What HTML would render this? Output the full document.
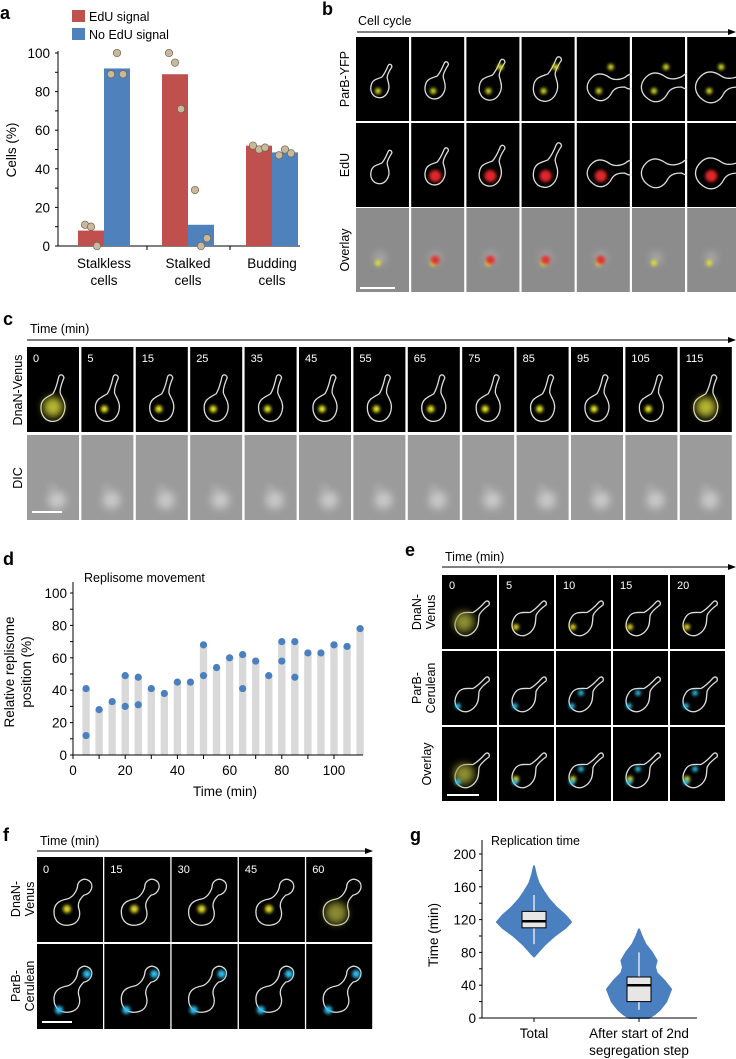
<!DOCTYPE html>
<html><head><meta charset="utf-8"><style>
html,body{margin:0;padding:0;background:#fff;}
svg{display:block;font-family:"Liberation Sans",Arial,sans-serif;}
</style></head><body>
<svg id="fig" width="736" height="1059" viewBox="0 0 736 1059" xmlns="http://www.w3.org/2000/svg">
<defs>
<filter id="blur2" x="-50%" y="-50%" width="200%" height="200%"><feGaussianBlur stdDeviation="1.6"/></filter>
<filter id="blur4" x="-50%" y="-50%" width="200%" height="200%"><feGaussianBlur stdDeviation="4"/></filter>
<marker id="arr" markerWidth="8" markerHeight="6" refX="7" refY="3" orient="auto"><path d="M0,0 L8,3 L0,6 Z" fill="#000"/></marker>
</defs>
</svg>
<script>
// ---------- Panel a data ----------
const aCategories = ['Stalkless', 'Stalked', 'Budding'];
const aEdU = [8, 89, 52];
const aNoEdU = [92, 11, 48.5];
const aEdUDots = [[11, 10, 0], [100, 95, 71], [52, 50, 51]];
const aNoEdUDots = [[89, 100, 89], [29, 0, 4], [47, 50, 48]];
const aTicks = [0, 20, 40, 60, 80, 100];
// ---------- Panel d data ----------
const dTimes = [5,10,15,20,25,30,35,40,45,50,55,60,65,70,75,80,85,90,95,100,105,110];
const dPos = [[41,12],[28],[33],[49,30],[48,31],[41],[38],[45],[45],[68,49],[54],[60],[62,41],[58],[49],[70,58],[70,48],[63],[63],[68],[67],[78]];
const dYTicks = [0,20,40,60,80,100];
const dXTicks = [0,20,40,60,80,100];
// ---------- Panel g data ----------
const gCategories = ['Total', 'After start of 2nd|segregation step'];
const gViolinY = [[75,80,90,100,110,117,125,135,145,155,165,175,185],[0,5,10,20,35,45,55,62,70,80,90,100,108]];
const gViolinW = [[0,0.1,0.3,0.55,0.85,1,0.85,0.6,0.4,0.25,0.12,0.05,0],[0.3,0.5,0.65,0.85,1,0.8,0.55,0.5,0.55,0.4,0.2,0.08,0]];
const gBoxQ1 = [110, 20];
const gBoxMed = [118, 40];
const gBoxQ3 = [130, 50];
const gWhiskLo = [90, 10];
const gWhiskHi = [150, 80];
const gYTicks = [0,40,80,120,160,200];

const NS = 'http://www.w3.org/2000/svg';
const svg = document.getElementById('fig');
function mk(parent, tag, attrs, text){
  const e = document.createElementNS(NS, tag);
  for (const k in attrs) e.setAttribute(k, attrs[k]);
  if (text !== undefined) e.textContent = text;
  parent.appendChild(e);
  return e;
}
function txt(x,y,s,size,opts){
  opts = opts||{};
  const t = mk(svg,'text',{x:x,y:y,'font-size':size,fill:opts.fill||'#000','text-anchor':opts.anchor||'start','font-weight':opts.bold?'bold':'normal'},s);
  if (opts.rot) t.setAttribute('transform','rotate(-90 '+x+' '+y+')');
  return t;
}

// ================= Panel a =================
const aY = v => 246 - v*1.93;
const aX = i => 104 + i*84;
let e;
e = txt(0,19,'a',18,{bold:true});


e = mk(svg,'rect',{x:72,y:10,width:13,height:12,fill:'#c0504d'});


e = txt(89,21,'EdU signal',12.5);


e = mk(svg,'rect',{x:72,y:28,width:13,height:12,fill:'#4f81bd'});


e = txt(89,39,'No EdU signal',12.5);


e = mk(svg,'line',{x1:58,y1:aY(0),x2:58,y2:aY(100)-2,stroke:'#000','stroke-width':1});


e = mk(svg,'line',{x1:58,y1:246,x2:300,y2:246,stroke:'#000','stroke-width':1});


for (let v=0; v<=100; v+=10){
  const l = mk(svg,'line',{x1:55,y1:aY(v),x2:58,y2:aY(v),stroke:'#000'});
  
  
}
aTicks.forEach(v=>{
  const t = txt(50,aY(v)+5,String(v),13.5,{anchor:'end'});
  
  
});
[147,230].forEach(x=>{
  const l = mk(svg,'line',{x1:x,y1:246,x2:x,y2:250,stroke:'#000'});
  
  
});
e = txt(16,150,'Cells (%)',13.5,{anchor:'middle',rot:true});


aCategories.forEach((c,i)=>{
  const cx = aX(i);
  const r = mk(svg,'rect',{x:cx-26,y:aY(aEdU[i]),width:26,height:246-aY(aEdU[i]),fill:'#c0504d'});
  
  
  const b = mk(svg,'rect',{x:cx,y:aY(aNoEdU[i]),width:26,height:246-aY(aNoEdU[i]),fill:'#4f81bd'});
  
  
  aEdUDots[i].forEach((v,j)=>{
    const d = mk(svg,'circle',{cx:cx-19+j*6,cy:aY(v),r:3.7,fill:'#c9b99c',stroke:'#6e6452','stroke-width':0.7});
    
    
  });
  aNoEdUDots[i].forEach((v,j)=>{
    const d = mk(svg,'circle',{cx:cx+7+j*6,cy:aY(v),r:3.7,fill:'#c9b99c',stroke:'#6e6452','stroke-width':0.7});
    
    
  });
  const t1 = txt(cx,268,c,13.5,{anchor:'middle'});
  
  
  const t2 = txt(cx,285,'cells',13.5,{anchor:'middle'});
  
  
});

// ================= Microscopy helpers =================
const PEAR = 'M -1,0 C -1,0.8 -0.5,1.2 0,1.2 C 0.6,1.2 1,0.7 1,0 C 1,-0.5 0.7,-0.8 0.5,-1.2 C 0.4,-1.6 0.6,-2.2 0.7,-2.5 C 0.6,-2.8 0.3,-2.8 0.25,-2.5 C 0.2,-2.1 0.1,-1.5 -0.1,-1.1 C -0.5,-0.8 -1,-0.6 -1,0 Z';
const BUD = 'M -1,0 C -1,0.8 -0.4,1.1 0.2,1.0 C 0.9,0.9 1.1,0.3 0.9,-0.3 C 0.8,-0.7 1.0,-1.0 1.3,-1.3 C 1.9,-1.4 2.1,-2.1 1.7,-2.4 C 1.3,-2.7 0.8,-2.4 0.8,-1.9 C 0.7,-1.5 0.4,-1.1 0,-1 C -0.6,-0.9 -1,-0.6 -1,0 Z';
function tile(x,y,w,h,bg,name){
  const r = mk(svg,'rect',{x:x,y:y,width:w,height:h,fill:bg});
  
  
}
function outline(cx,cy,s,rot,shape,color){
  const p = mk(svg,'path',{d:shape,fill:'none',stroke:color||'#ddd','stroke-width':1.3/s,transform:'translate('+cx+' '+cy+') rotate('+rot+') scale('+s+')'});
  
  
}
function blob(cx,cy,r,color,filt){
  const c = mk(svg,'circle',{cx:cx,cy:cy,r:r,fill:color,filter:'url(#'+(filt||'blur2')+')'});
  
  
}
function arrowLine(x1,x2,y,name){
  const l = mk(svg,'line',{x1:x1,y1:y,x2:x2,y2:y,stroke:'#000','stroke-width':1,'marker-end':'url(#arr)'});
  
  
}
function scaleBar(x,y,w,name){
  const l = mk(svg,'line',{x1:x,y1:y,x2:x+w,y2:y,stroke:'#fff','stroke-width':2});
  
  
}

// ================= Panel b =================
e = txt(322,15,'b',18,{bold:true});


e = txt(358,25,'Cell cycle',12.5);


arrowLine(357,735,32,'b-cell-cycle-arrow');
const bRows = [[37,'#000','ParB-YFP'],[123,'#000','EdU'],[208,'#8c8c8c','Overlay']];
bRows.forEach((row,ri)=>{
  const t = txt(349,row[0]+42,row[2],12.5,{anchor:'middle',rot:true});
  
  
  for (let i=0;i<7;i++){
    const x = 356+i*55.2, y=row[0];
    tile(x,y,53,84,row[1],'b-tile');
    const cx=x+24, cy=y+50, s=9+i*1.0;
    if (ri<2) outline(cx,cy,s,i>3?45:15,i>=4?BUD:PEAR);
    if (ri===0){ blob(cx-2,cy+4,3,'#e5e52a'); if(i>=2) blob(cx+10,cy-20,3,'#e5e52a'); }
    if (ri===1 && i>0 && i!==5) blob(cx,cy+3,6,'#e0282a','blur2');
    if (ri===2){ blob(cx,cy,6,'#aaaaaa','blur4'); blob(cx-2,cy+5,3,'#e0e030'); if(i>0&&i<5) blob(cx,cy+2,4.5,'#e03030'); }
  }
});
scaleBar(360,288,35,'b-scale-bar');

// ================= Panel c =================
e = txt(3,325,'c',18,{bold:true});


e = txt(30,333,'Time (min)',12.5);


arrowLine(27,735,340,'c-time-arrow');
const cTimes = ['0','5','15','25','35','45','55','65','75','85','95','105','115'];
e = txt(22,390,'DnaN-Venus',12.5,{anchor:'middle',rot:true});


e = txt(22,478,'DIC',12.5,{anchor:'middle',rot:true});


cTimes.forEach((tm,i)=>{
  const x = 27+i*54.4;
  tile(x,347,52,85,'#000','c-tile-fluor');
  outline(x+26,347+60,12,5,PEAR);
  if (i===0||i===12) blob(x+26,407,10,'#b8b830','blur4'); else blob(x+23,409,3.5,'#f0f020');
  const t = txt(x+6,362,tm,11,{fill:'#fff'});
  
  
  tile(x,435,52,85,'#9b9b9b','c-tile-dic');
  blob(x+30,500,9,'#c8c8c8','blur4');
  blob(x+25,488,3,'#bdbdbd','blur4');
});
scaleBar(32,512,30,'c-scale-bar');

// ================= Panel d =================
const dX = t => 73 + t*2.61;
const dY = v => 755 - v*1.62;
e = txt(3,565,'d',18,{bold:true});


e = txt(84,582,'Replisome movement',12.5);


dTimes.forEach((t,i)=>{
  const top = Math.max(...dPos[i]);
  const b = mk(svg,'rect',{x:dX(t)-3.7,y:dY(top),width:7.4,height:755-dY(top),fill:'#d9d9d9'});
  
  
});
dTimes.forEach((t,i)=>{
  dPos[i].forEach(v=>{
    const c = mk(svg,'circle',{cx:dX(t),cy:dY(v),r:3.6,fill:'#4a7fc0'});
    
    
  });
});
e = mk(svg,'line',{x1:73,y1:755,x2:73,y2:582,stroke:'#000'});


e = mk(svg,'line',{x1:73,y1:755,x2:363,y2:755,stroke:'#000'});


for (let v=0; v<=100; v+=10){
  const l = mk(svg,'line',{x1:70,y1:dY(v),x2:73,y2:dY(v),stroke:'#000'});
  
  
  const m = mk(svg,'line',{x1:dX(v),y1:755,x2:dX(v),y2:759,stroke:'#000'});
  
  
}
dYTicks.forEach(v=>{
  const t = txt(67,dY(v)+5,String(v),13.5,{anchor:'end'});
  
  
});
dXTicks.forEach(v=>{
  const t = txt(dX(v),775,String(v),13.5,{anchor:'middle'});
  
  
});
e = txt(225,796,'Time (min)',13.5,{anchor:'middle'});


e = txt(14,672,'Relative replisome',13.5,{anchor:'middle',rot:true});


e = txt(31,672,'position (%)',13.5,{anchor:'middle',rot:true});



// ================= Panel e =================
e = txt(405,556,'e',18,{bold:true});


e = txt(445,561,'Time (min)',12.5);


arrowLine(442,735,567,'e-time-arrow');
const eTimes = ['0','5','10','15','20'];
const eRows = [[575,['DnaN-','Venus']],[651,['ParB-','Cerulean']],[727,['Overlay']]];
eRows.forEach((row,ri)=>{
  row[1].forEach((s,k)=>{
    const t = txt(row[1].length===1?431:421+k*14,row[0]+37,s,12.5,{anchor:'middle',rot:true});
    
    
  });
  eTimes.forEach((tm,i)=>{
    const x = 442+i*57;
    tile(x,row[0],55,74,'#000','e-tile');
    outline(x+25,row[0]+48,11,35,PEAR);
    if (ri===0||ri===2){ if(i===0) blob(x+22,row[0]+47,10,'#8f8f30','blur4'); else blob(x+17,row[0]+52,3,'#f0e020'); }
    if (ri>=1){ blob(x+16,row[0]+55,2.8,'#30c8f0'); if(i>=2) blob(x+25,row[0]+42,2.8,'#30c8f0'); }
    if (ri===0){
      const t = txt(x+7,row[0]+14,tm,11,{fill:'#fff'});
      
      
    }
  });
});
scaleBar(447,795,32,'e-scale-bar');

// ================= Panel f =================
e = txt(3,841,'f',18,{bold:true});


e = txt(40,845,'Time (min)',12.5);


arrowLine(37,372,851,'f-time-arrow');
const fTimes = ['0','15','30','45','60'];
const fRows = [[857,['DnaN-','Venus']],[944,['ParB-','Cerulean']]];
fRows.forEach((row,ri)=>{
  row[1].forEach((s,k)=>{
    const t = txt(20+k*14,row[0]+42,s,12.5,{anchor:'middle',rot:true});
    
    
  });
  fTimes.forEach((tm,i)=>{
    const x = 37+i*67.3;
    tile(x,row[0],66,85,'#000','f-tile');
    outline(x+30,row[0]+55,13,0,BUD);
    if (ri===0){
      if (i===4) blob(x+30,row[0]+56,11,'#8a8a30','blur4'); else blob(x+30,row[0]+52,4,'#e0d828');
      const t = txt(x+6,row[0]+16,tm,11,{fill:'#fff'});
      
      
    } else {
      blob(x+50,row[0]+30,4,'#30c0f0');
      blob(x+22,row[0]+66,4,'#30c0f0');
    }
  });
});
scaleBar(42,1022,30,'f-scale-bar');

// ================= Panel g =================
const gY = v => 1018 - v*0.82;
const gX = [534, 639];
const gHalf = [37, 32];
e = txt(410,841,'g',18,{bold:true});


e = txt(491,845,'Replication time',12.5);


gCategories.forEach((c,i)=>{
  const ys = gViolinY[i], ws = gViolinW[i];
  let d = '';
  ys.forEach((v,k)=>{ d += (k?'L':'M')+(gX[i]+ws[k]*gHalf[i])+','+gY(v)+' '; });
  for (let k=ys.length-1;k>=0;k--) d += 'L'+(gX[i]-ws[k]*gHalf[i])+','+gY(ys[k])+' ';
  d += 'Z';
  const p = mk(svg,'path',{d:d,fill:'#4a7fc0',stroke:'#4a7fc0','stroke-width':2,'stroke-linejoin':'round'});
  
  
  const w = mk(svg,'line',{x1:gX[i],y1:gY(gWhiskLo[i]),x2:gX[i],y2:gY(gWhiskHi[i]),stroke:'#fff','stroke-width':1.2});
  
  
  const b = mk(svg,'rect',{x:gX[i]-12,y:gY(gBoxQ3[i]),width:24,height:gY(gBoxQ1[i])-gY(gBoxQ3[i]),fill:'#e6e6e6',stroke:'#000','stroke-width':1});
  
  
  const m = mk(svg,'line',{x1:gX[i]-12,y1:gY(gBoxMed[i]),x2:gX[i]+12,y2:gY(gBoxMed[i]),stroke:'#000','stroke-width':2.5});
  
  
  const tk = mk(svg,'line',{x1:gX[i],y1:1018,x2:gX[i],y2:1022,stroke:'#000'});
  
  
  c.split('|').forEach((s,k)=>{
    const t = txt(gX[i],1038+k*17,s,13.5,{anchor:'middle'});
    
    
  });
});
e = mk(svg,'line',{x1:482,y1:1018,x2:482,y2:840,stroke:'#000'});


e = mk(svg,'line',{x1:482,y1:1018,x2:697,y2:1018,stroke:'#000'});


for (let v=0; v<=200; v+=20){
  const l = mk(svg,'line',{x1:479,y1:gY(v),x2:482,y2:gY(v),stroke:'#000'});
  
  
}
gYTicks.forEach(v=>{
  const t = txt(476,gY(v)+5,String(v),13.5,{anchor:'end'});
  
  
});
e = txt(438,935,'Time (min)',13.5,{anchor:'middle',rot:true});


</script>
</body></html>
